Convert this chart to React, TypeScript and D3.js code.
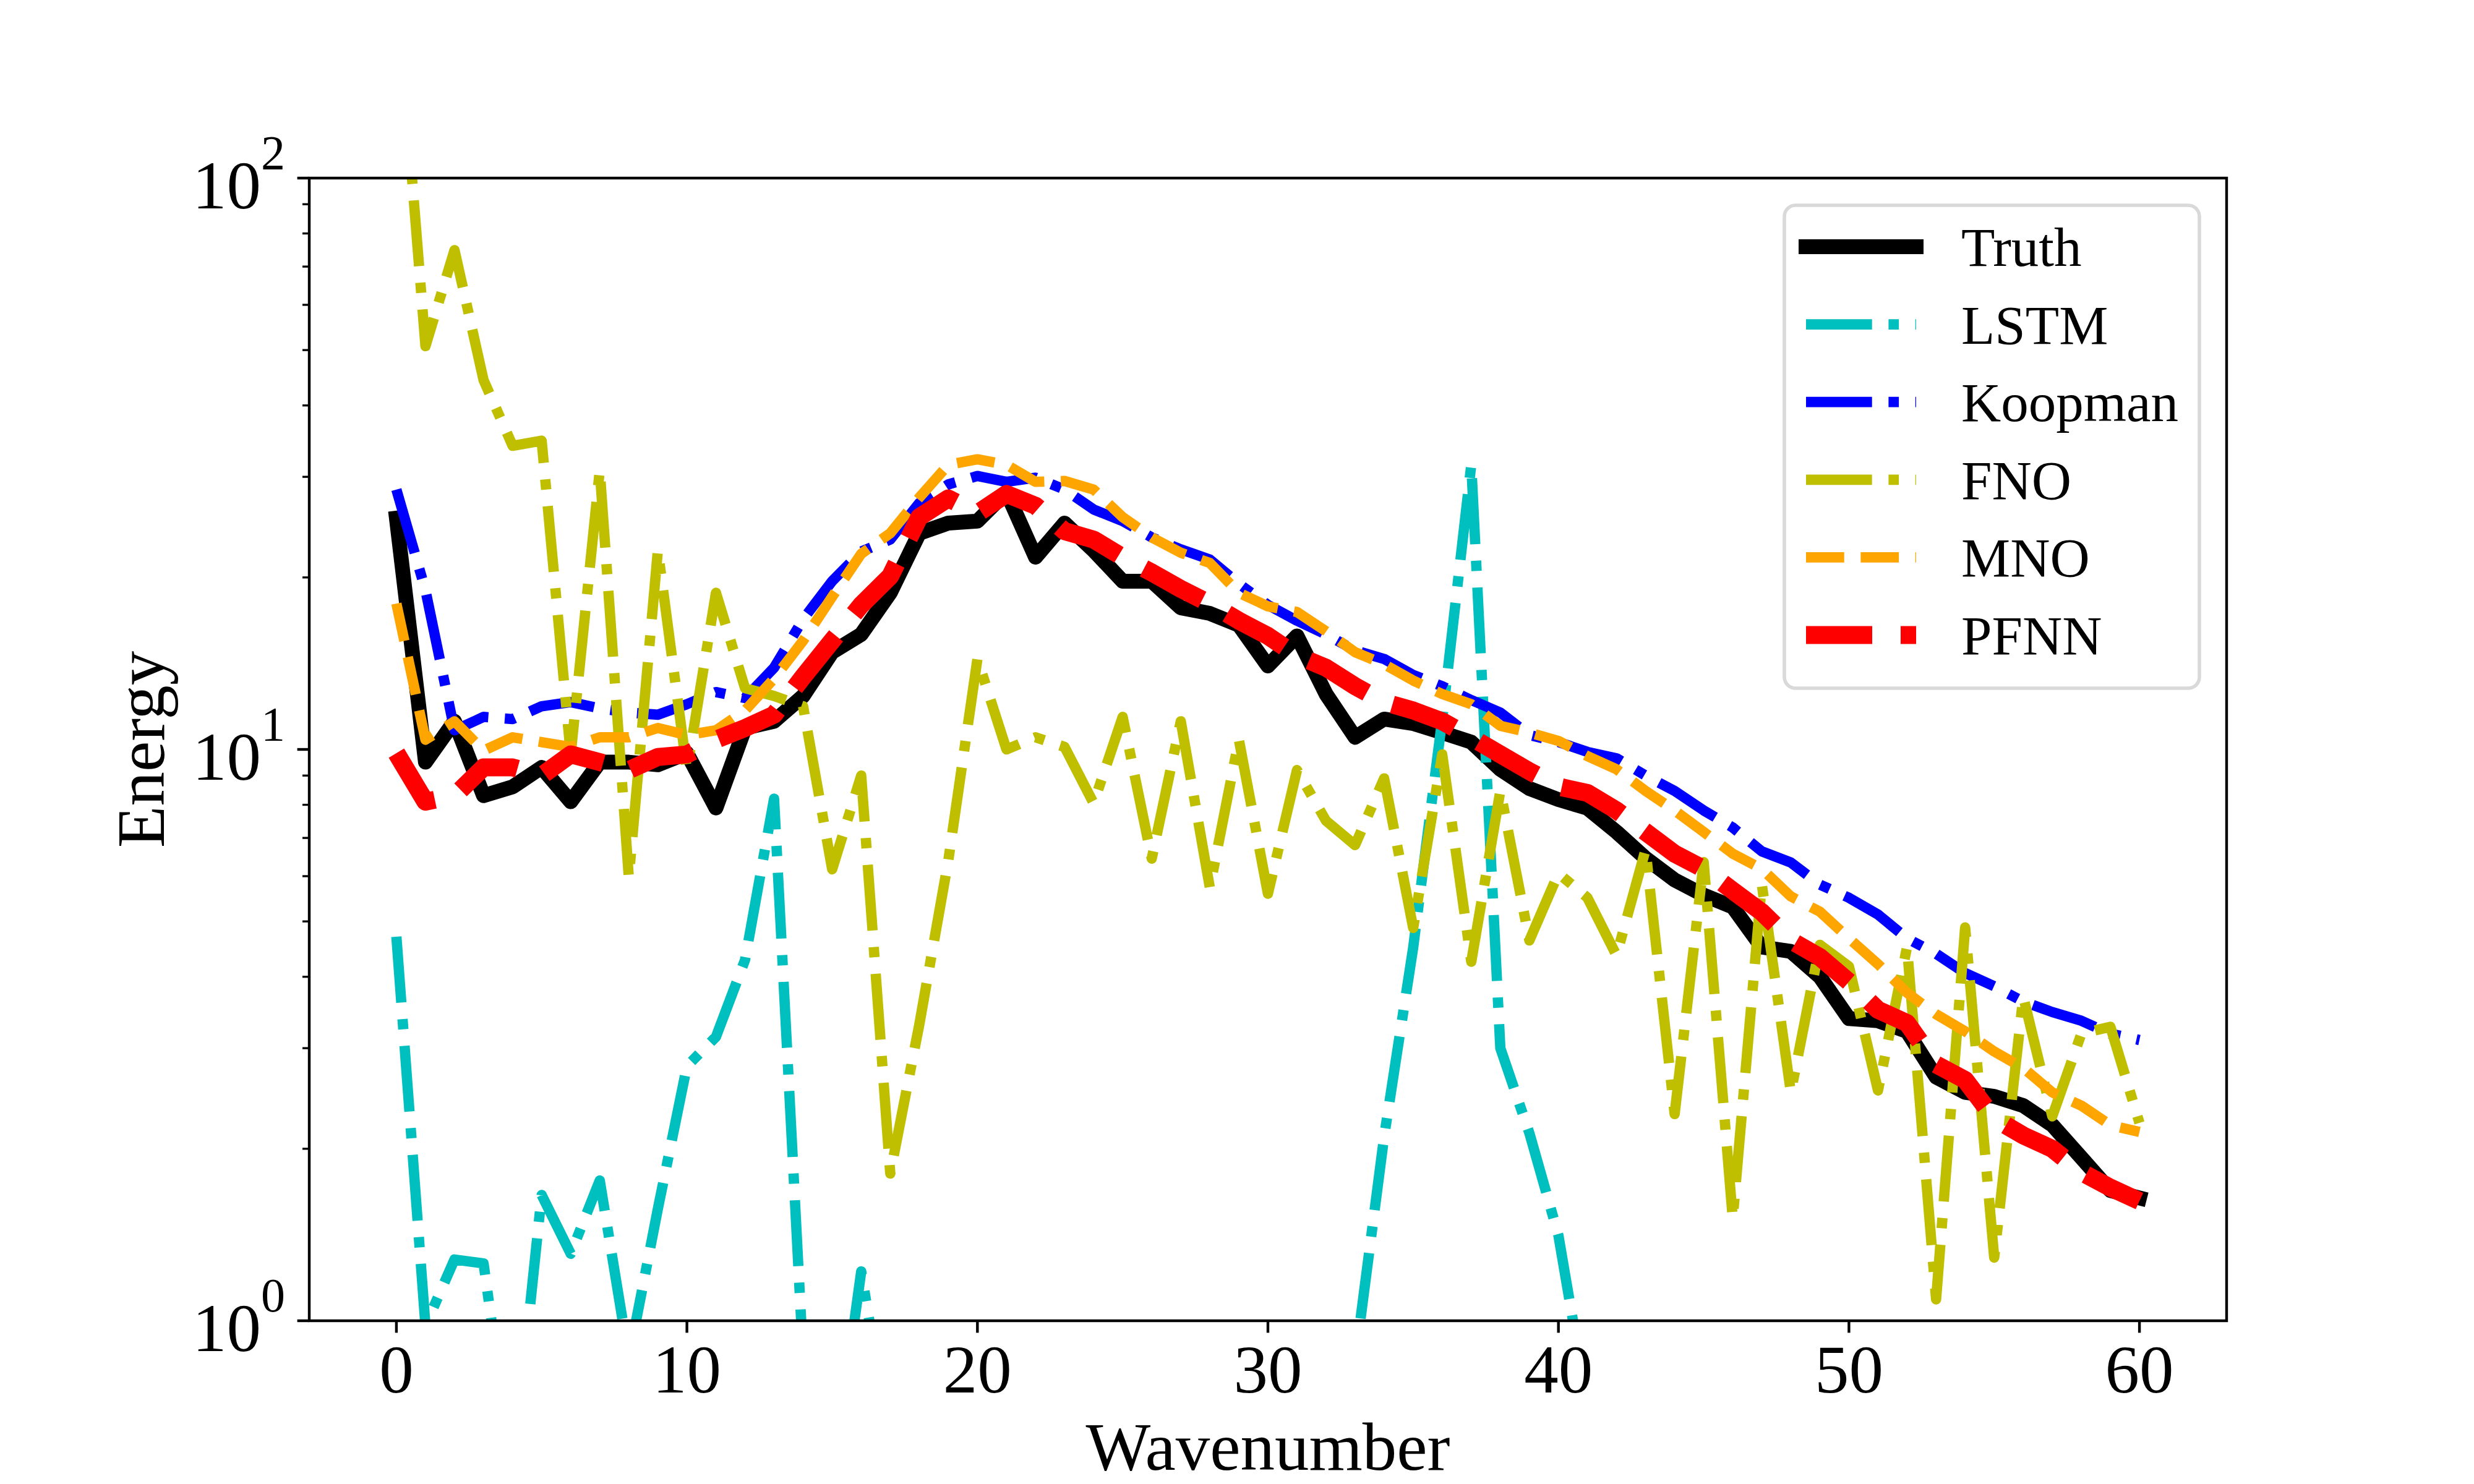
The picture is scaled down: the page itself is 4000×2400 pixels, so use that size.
import React from 'react';
import * as d3 from 'd3';

// ---------------- data ----------------
const wavenumbers: number[] = d3.range(0, 61);

const truth = [25.4, 9.5, 11.2, 8.3, 8.6, 9.3, 8.1, 9.5, 9.5, 9.4,
  9.85, 7.9, 10.9, 11.2, 12.4, 14.8, 15.9, 18.8, 23.9, 24.9,
  25.1, 28.2, 21.7, 24.9, 22.3, 19.7, 19.7, 17.7, 17.3, 16.5,
  14.0, 15.8, 12.5, 10.5, 11.3, 11.1, 10.7, 10.3, 9.23, 8.54,
  8.17, 7.89, 7.17, 6.45, 5.91, 5.56, 5.3, 4.51, 4.43, 4.0,
  3.38, 3.35, 3.21, 2.67, 2.51, 2.47, 2.38, 2.2, 1.93, 1.69,
  1.64];

const lstm = [4.7, 0.98, 1.28, 1.26, 0.54, 1.66, 1.31, 1.76, 0.86, 1.57,
  2.79, 3.14, 4.28, 8.2, 0.86, 0.52, 1.22, 0.6, 0.42, 0.35,
  0.3, 0.38, 0.27, 0.33, 0.25, 0.31, 0.22, 0.28, 0.3, 0.24,
  0.32, 0.4, 0.45, 0.85, 2.1, 4.5, 11.3, 31.5, 3.0, 2.13,
  1.41, 0.71, 0.45, 0.38, 0.3, 0.35, 0.27, 0.3, 0.25, 0.28,
  0.22, 0.26, 0.2, 0.24, 0.19, 0.22, 0.18, 0.21, 0.17, 0.2,
  0.18];

const koopman = [28.5, 19, 10.8, 11.4, 11.3, 11.9, 12.1, 11.8, 11.6, 11.5,
  12.0, 12.6, 12.3, 13.9, 16.9, 19.7, 22.2, 23.3, 27.0, 29.1,
  30.1, 29.4, 29.9, 28.5, 26.3, 25.1, 23.5, 22.4, 21.5, 19.5,
  17.9, 16.8, 15.9, 14.9, 14.4, 13.5, 12.9, 12.2, 11.6, 10.6,
  10.3, 9.9, 9.65, 9.0, 8.46, 7.82, 7.3, 6.63, 6.34, 5.8,
  5.5, 5.14, 4.67, 4.39, 4.06, 3.85, 3.62, 3.47, 3.35, 3.18,
  3.1];

const fno = [220, 50.8, 74.8, 44.3, 34, 34.7, 9.8, 30.8, 5.97, 22.3,
  9.2, 18.8, 12.8, 12.4, 11.9, 6.17, 9.0, 1.81, 3.3, 6.4,
  14.4, 10.0, 10.5, 10.1, 8.05, 11.4, 6.44, 11.2, 5.73, 10.4,
  5.59, 9.2, 7.5, 6.8, 8.9, 4.87, 9.8, 4.25, 8.46, 4.63,
  6.07, 5.5, 4.36, 6.68, 2.3, 6.35, 1.51, 5.81, 2.51, 4.55,
  4.17, 2.53, 4.51, 1.09, 4.88, 1.29, 3.69, 2.28, 3.18, 3.27,
  2.22];

const mno = [18.0, 10.4, 11.2, 9.95, 10.5, 10.3, 10.1, 10.5, 10.5, 10.9,
  10.6, 10.8, 11.7, 13.3, 15.5, 18.5, 22.0, 23.9, 27.6, 31.5,
  32.2, 31.5, 29.4, 29.5, 28.5, 25.5, 23.5, 22.1, 21.2, 18.8,
  17.8, 17.4, 16.1, 14.8, 14.1, 13.2, 12.5, 12.0, 11.0, 10.7,
  10.35, 9.73, 9.23, 8.46, 7.82, 7.17, 6.57, 6.18, 5.53, 5.2,
  4.67, 4.21, 3.75, 3.44, 3.21, 2.96, 2.77, 2.51, 2.38, 2.2,
  2.14];

const pfnn = [9.85, 8.1, 8.3, 9.3, 9.3, 9.0, 9.8, 9.5, 9.2, 9.7,
  9.8, 10.4, 10.9, 11.5, 13.4, 15.5, 17.9, 20.1, 25.5, 27.5,
  25.9, 28.0, 26.7, 24.1, 23.3, 21.7, 20.4, 19.1, 18.0, 16.8,
  15.8, 14.6, 13.9, 12.9, 12.1, 11.7, 11.2, 10.5, 9.8, 9.16,
  8.61, 8.39, 7.82, 7.17, 6.57, 6.18, 5.66, 5.19, 4.63, 4.33,
  3.92, 3.5, 3.32, 2.81, 2.64, 2.26, 2.11, 2.0, 1.82, 1.71,
  1.62];

const seriesNames = ['Truth', 'LSTM', 'Koopman', 'FNO', 'MNO', 'PFNN'];
const seriesValues = [truth, lstm, koopman, fno, mno, pfnn];

const xTicks = [0, 10, 20, 30, 40, 50, 60];
const yMajorTicks = [1, 10, 100];
const yTickExponents = ['0', '1', '2'];
const xLabel = 'Wavenumber';
const yLabel = 'Energy';

// ---------------- styles ----------------
const styles = [
  { color: '#000000', width: 24, dash: '', cap: 'square' },
  { color: '#00bfbf', width: 16.7, dash: '106.7,26.7,16.7,26.7', cap: 'butt' },
  { color: '#0000ff', width: 16.7, dash: '106.7,26.7,16.7,26.7', cap: 'butt' },
  { color: '#bfbf00', width: 16.7, dash: '106.7,26.7,16.7,26.7', cap: 'butt' },
  { color: '#ffa500', width: 16.7, dash: '61.7,26.7', cap: 'butt' },
  { color: '#ff0000', width: 29, dash: '107,46', cap: 'butt' },
];

const W = 4000;
const H = 2400;
const L = 500, R = 3600, T = 288, B = 2136;
const FONT = '"Liberation Serif", "Times New Roman", "DejaVu Serif", serif';
const FS = 111;
const LFS = 89;

export default function App() {
  const x = d3.scaleLinear().domain([-3, 63]).range([L, R]);
  const y = d3.scaleLog().domain([1, 100]).range([B, T]);

  const line = d3.line<number>()
    .x((_, i) => x(wavenumbers[i]))
    .y((d) => y(d));

  const minorTicks: number[] = [];
  [1, 10].forEach((dec) => {
    for (let m = 2; m <= 9; m++) minorTicks.push(dec * m);
  });

  const legendX0 = 2885, legendY0 = 332, legendX1 = 3556, legendY1 = 1113;
  const rowY = (i: number) => 399 + i * 125.6;
  const hx0 = 2920, hx1 = 3098;

  return (
    <svg width={W} height={H} viewBox={`0 0 ${W} ${H}`}
      style={{ position: 'absolute', left: 0, top: 0, background: '#fff' }}
      xmlns="http://www.w3.org/2000/svg">
      <rect x={0} y={0} width={W} height={H} fill="#ffffff" />
      <defs>
        <clipPath id="plotclip">
          <rect x={L} y={T} width={R - L} height={B - T} />
        </clipPath>
      </defs>

      {/* series */}
      <g clipPath="url(#plotclip)">
        {seriesValues.map((vals, i) => (
          <path key={seriesNames[i]} d={line(vals) || ''} fill="none"
            stroke={styles[i].color} strokeWidth={styles[i].width}
            strokeDasharray={styles[i].dash || undefined}
            strokeLinecap={styles[i].cap as any} strokeLinejoin="round" />
        ))}
      </g>

      {/* spines */}
      <rect x={L} y={T} width={R - L} height={B - T} fill="none" stroke="#000" strokeWidth={4.4} />

      {/* x ticks */}
      {xTicks.map((t) => (
        <g key={'xt' + t}>
          <line x1={x(t)} x2={x(t)} y1={B} y2={B + 19.4} stroke="#000" strokeWidth={4.4} />
          <text x={x(t)} y={B + 116} fontFamily={FONT} fontSize={FS} textAnchor="middle" fill="#000">{t}</text>
        </g>
      ))}

      {/* y ticks */}
      {yMajorTicks.map((t, i) => (
        <g key={'yt' + t}>
          <line x1={L - 19.4} x2={L} y1={y(t)} y2={y(t)} stroke="#000" strokeWidth={4.4} />
          <text x={461} y={y(t) + 49} fontFamily={FONT} fontSize={FS} textAnchor="end" fill="#000">
            <tspan>10</tspan>
            <tspan dy={-64} fontSize={78}>{yTickExponents[i]}</tspan>
          </text>
        </g>
      ))}
      {minorTicks.map((t) => (
        <line key={'ym' + t} x1={L - 11} x2={L} y1={y(t)} y2={y(t)} stroke="#000" strokeWidth={3.3} />
      ))}

      {/* axis labels */}
      <text x={(L + R) / 2} y={2377} fontFamily={FONT} fontSize={FS} textAnchor="middle" fill="#000">{xLabel}</text>
      <text transform={`translate(265,${(T + B) / 2}) rotate(-90)`} fontFamily={FONT} fontSize={FS}
        textAnchor="middle" fill="#000">{yLabel}</text>

      {/* legend */}
      <rect x={legendX0} y={legendY0} width={legendX1 - legendX0} height={legendY1 - legendY0}
        rx={18} ry={18} fill="#ffffff" fillOpacity={0.8} stroke="#d9d9d9" strokeWidth={5.6} />
      {seriesNames.map((name, i) => (
        <g key={'lg' + name}>
          <line x1={hx0} x2={hx1} y1={rowY(i)} y2={rowY(i)} stroke={styles[i].color}
            strokeWidth={styles[i].width} strokeDasharray={styles[i].dash || undefined}
            strokeLinecap={styles[i].cap as any} />
          <text x={3171} y={rowY(i) + 31} fontFamily={FONT} fontSize={LFS} fill="#000">{name}</text>
        </g>
      ))}
    </svg>
  );
}
